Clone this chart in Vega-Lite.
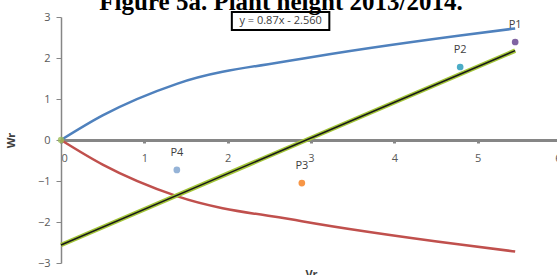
{
  "$schema": "https://vega.github.io/schema/vega-lite/v6.json",
  "width": 500,
  "height": 246,
  "autosize": {"type": "none"},
  "padding": {"left": 61, "top": 17, "right": 0, "bottom": 12},
  "background": "white",
  "title": {
    "text": "Figure 5a. Plant height 2013/2014.",
    "font": "Liberation Serif",
    "fontSize": 25,
    "fontWeight": "bold",
    "color": "black",
    "baseline": "alphabetic",
    "offset": -24,
    "dx": -30
  },
  "config": {"view": {"stroke": null}, "axis": {"grid": false}},
  "resolve": {"scale": {"color": "independent"}},
  "datasets": {
    "curves": [
      {"series": "upper", "vr": 0, "wr": 0},
      {"series": "upper", "vr": 0.5, "wr": 0.6},
      {"series": "upper", "vr": 1.39, "wr": 1.37},
      {"series": "upper", "vr": 2.89, "wr": 1.98},
      {"series": "upper", "vr": 4.79, "wr": 2.55},
      {"series": "upper", "vr": 5.45, "wr": 2.72},
      {"series": "lower", "vr": 0, "wr": 0},
      {"series": "lower", "vr": 0.5, "wr": -0.6},
      {"series": "lower", "vr": 1.39, "wr": -1.37},
      {"series": "lower", "vr": 2.89, "wr": -1.98},
      {"series": "lower", "vr": 4.79, "wr": -2.55},
      {"series": "lower", "vr": 5.45, "wr": -2.72}
    ],
    "regression": [
      {"vr": 0, "wr": -2.56},
      {"vr": 5.45, "wr": 2.18}
    ],
    "parents": [
      {"name": "P1", "vr": 5.45, "wr": 2.39},
      {"name": "P2", "vr": 4.79, "wr": 1.78},
      {"name": "P3", "vr": 2.89, "wr": -1.05},
      {"name": "P4", "vr": 1.39, "wr": -0.73}
    ],
    "origin": [{"vr": 0, "wr": 0}],
    "box": [{"vr": 2.05, "vr2": 3.22, "wr": 3.12, "wr2": 2.68, "label": "y = 0.87x - 2.560", "cx": 2.635, "cy": 2.9}]
  },
  "encoding": {
    "x": {
      "field": "vr", "type": "quantitative",
      "scale": {"domain": [0, 6], "nice": false, "zero": false},
      "axis": {
        "orient": "bottom", "offset": -123, "values": [0, 1, 2, 3, 4, 5, 6],
        "domainColor": "#868686", "domainWidth": 3,
        "tickColor": "#868686", "tickSize": 3, "tickWidth": 3,
        "labelPadding": 9, "labelFont": "Open Sans", "labelFontSize": 11, "labelColor": "#595959",
        "title": "Vr", "titleY": 128, "titleBaseline": "top", "titleFont": "Open Sans",
        "titleFontSize": 11, "titleFontWeight": "bold", "titleColor": "#404040"
      }
    },
    "y": {
      "field": "wr", "type": "quantitative",
      "scale": {"domain": [-3, 3], "nice": false, "zero": false},
      "axis": {
        "values": [-3, -2, -1, 0, 1, 2, 3],
        "domainColor": "#868686", "domainWidth": 1.5,
        "tickColor": "#868686", "tickSize": 5,
        "labelPadding": 6, "labelFont": "Open Sans", "labelFontSize": 11, "labelColor": "#595959",
        "title": "Wr", "titleX": -45, "titleFont": "Open Sans",
        "titleFontSize": 11, "titleFontWeight": "bold", "titleColor": "#404040"
      }
    }
  },
  "layer": [
    {
      "data": {"name": "curves"},
      "mark": {"type": "line", "interpolate": "monotone", "strokeWidth": 2.5},
      "encoding": {
        "color": {"field": "series", "type": "nominal", "scale": {"domain": ["upper", "lower"], "range": ["#4f81bd", "#c0504d"]}, "legend": null}
      }
    },
    {
      "data": {"name": "regression"},
      "mark": {"type": "line", "color": "#a4c639", "strokeWidth": 4.5}
    },
    {
      "data": {"name": "regression"},
      "mark": {"type": "line", "color": "#1a1a1a", "strokeWidth": 1.5}
    },
    {
      "data": {"name": "origin"},
      "mark": {"type": "point", "filled": true, "color": "#9bbb59", "size": 40, "opacity": 0.8}
    },
    {
      "data": {"name": "parents"},
      "mark": {"type": "point", "filled": true, "size": 45, "opacity": 1},
      "encoding": {
        "color": {"field": "name", "type": "nominal", "scale": {"domain": ["P1", "P2", "P3", "P4"], "range": ["#8064a2", "#4bacc6", "#f79646", "#95b3d7"]}, "legend": null}
      }
    },
    {
      "data": {"name": "parents"},
      "mark": {"type": "text", "dy": -17, "font": "Open Sans", "fontSize": 11, "color": "#404040"},
      "encoding": {"text": {"field": "name"}}
    },
    {
      "data": {"name": "box"},
      "mark": {"type": "rect", "fill": "white", "stroke": "black", "strokeWidth": 2},
      "encoding": {
        "x2": {"field": "vr2"},
        "y2": {"field": "wr2"}
      }
    },
    {
      "data": {"name": "box"},
      "mark": {"type": "text", "font": "Open Sans", "fontSize": 11, "color": "#404040", "baseline": "middle"},
      "encoding": {
        "x": {"field": "cx", "type": "quantitative"},
        "y": {"field": "cy", "type": "quantitative"},
        "text": {"field": "label"}
      }
    }
  ]
}
